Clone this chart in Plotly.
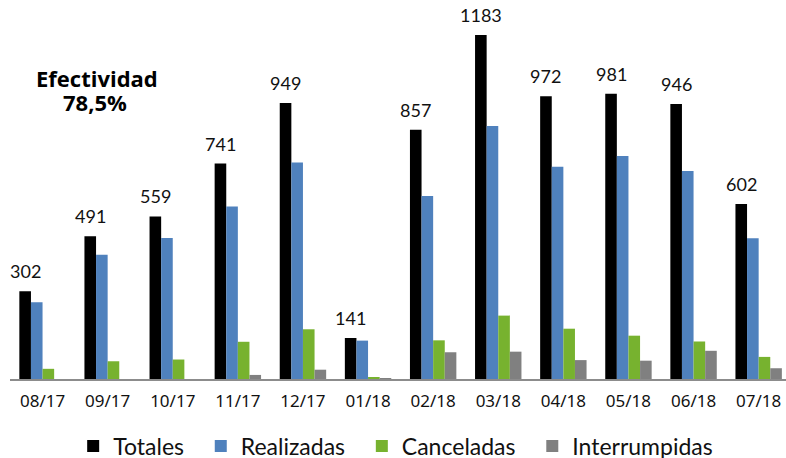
import plotly.graph_objects as go
import numpy as np

categories = ["08/17", "09/17", "10/17", "11/17", "12/17", "01/18",
              "02/18", "03/18", "04/18", "05/18", "06/18", "07/18"]
totales = [302, 491, 559, 741, 949, 141, 857, 1183, 972, 981, 946, 602]
realizadas = [264, 427, 485, 593, 745, 132, 629, 870, 730, 767, 715, 484]
canceladas = [35, 61, 67, 128, 171, 5, 133, 218, 173, 149, 129, 76]
interrumpidas = [0, 0, 0, 14, 32, 2, 92, 94, 65, 63, 97, 37]

series = [
    ("Totales", totales, "#000000"),
    ("Realizadas", realizadas, "#4F81BD"),
    ("Canceladas", canceladas, "#77B22F"),
    ("Interrumpidas", interrumpidas, "#808080"),
]

x = np.arange(len(categories))
bargap = 0.287
bw = (1 - bargap) / len(series)
pad = "\u00a0\u00a0"

fig = go.Figure()
for i, (name, vals, col) in enumerate(series):
    fig.add_trace(go.Bar(x=x, y=vals, name=name + (pad if i < len(series) - 1 else ""),
                         marker=dict(color=col, line=dict(width=0))))

# data labels over Totales
for xi, v in zip(x, totales):
    fig.add_annotation(x=xi - 1.5 * bw, y=v, text=str(v), showarrow=False,
                       yanchor="bottom", yshift=7,
                       font=dict(family="Lato", size=18, color="#111111"))

fig.add_annotation(xref="paper", yref="paper", x=0.112, y=0.796, text="<b>Efectividad</b>",
                   showarrow=False, xanchor="center", yanchor="middle",
                   font=dict(family="Open Sans", size=22, color="#000000"))
fig.add_annotation(xref="paper", yref="paper", x=0.110, y=0.733, text="<b>78,5%</b>",
                   showarrow=False, xanchor="center", yanchor="middle",
                   font=dict(family="Open Sans", size=22, color="#000000"))

fig.update_layout(
    width=786, height=458,
    margin=dict(l=10, r=0, t=1, b=79),
    paper_bgcolor="white", plot_bgcolor="white",
    barmode="group", bargap=bargap, bargroupgap=0,
    showlegend=True,
    legend=dict(orientation="h", x=0.497, xanchor="center", yref="container",
                y=0.026, yanchor="middle",
                font=dict(family="Lato", size=23, color="#111111"),
                itemwidth=30, traceorder="normal"),
    xaxis=dict(range=[-0.5, 11.42], tickvals=list(x), ticktext=categories,
               showgrid=False, zeroline=False, showline=True, linecolor="#8c8c8c",
               linewidth=2, ticks="", ticklabelstandoff=6,
               tickfont=dict(family="Noto Sans", size=17, color="#111111")),
    yaxis=dict(range=[0, 1300], visible=False, showgrid=False, zeroline=False),
)

fig.write_html("out.html", config={"displayModeBar": False},
               post_script="document.body.style.margin='0';")
